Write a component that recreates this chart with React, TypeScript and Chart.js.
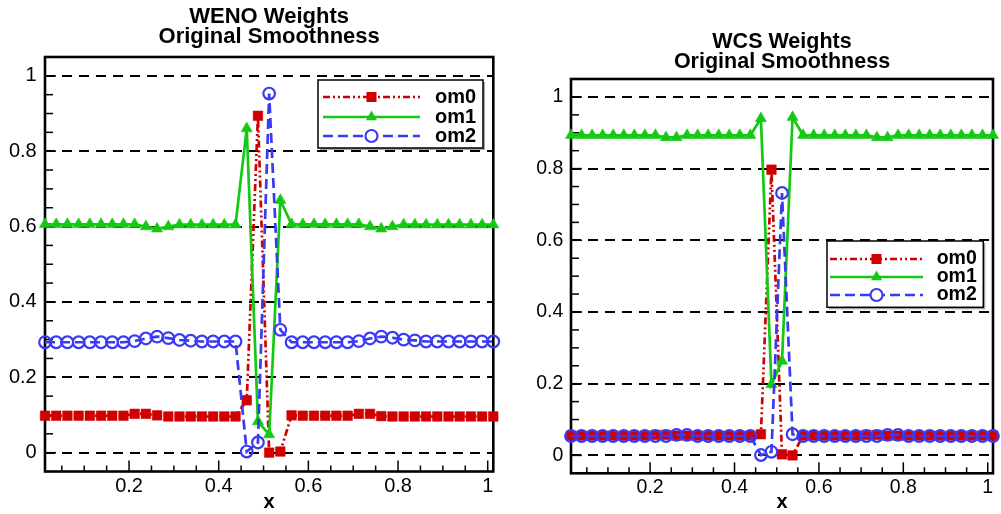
import React, { useEffect, useRef } from 'react';
import { Chart, registerables } from 'chart.js';

Chart.register(...registerables);

const FONT = '"Liberation Sans", Arial, Helvetica, sans-serif';
const RED = '#d10000';
const GREEN = '#14c814';
const BLUE = '#3a3af2';

// grid points (cell centres)
const xValues = [
  0.0125, 0.0375, 0.0625, 0.0875, 0.1125, 0.1375, 0.1625, 0.1875, 0.2125, 0.2375,
  0.2625, 0.2875, 0.3125, 0.3375, 0.3625, 0.3875, 0.4125, 0.4375, 0.4625, 0.4875,
  0.5125, 0.5375, 0.5625, 0.5875, 0.6125, 0.6375, 0.6625, 0.6875, 0.7125, 0.7375,
  0.7625, 0.7875, 0.8125, 0.8375, 0.8625, 0.8875, 0.9125, 0.9375, 0.9625, 0.9875,
  1.0125,
];

// WENO weights
const wenoOm0 = [
  0.098, 0.098, 0.098, 0.098, 0.098, 0.098, 0.098, 0.098, 0.103, 0.103,
  0.099, 0.096, 0.096, 0.096, 0.096, 0.096, 0.096, 0.096, 0.139, 0.894,
  0.000, 0.003, 0.099, 0.098, 0.098, 0.098, 0.098, 0.098, 0.103, 0.103,
  0.097, 0.096, 0.096, 0.096, 0.096, 0.096, 0.096, 0.096, 0.096, 0.096,
  0.096,
];
const wenoOm1 = [
  0.606, 0.606, 0.606, 0.606, 0.606, 0.606, 0.606, 0.606, 0.606, 0.600,
  0.594, 0.600, 0.605, 0.605, 0.605, 0.605, 0.605, 0.605, 0.860, 0.083,
  0.048, 0.670, 0.606, 0.606, 0.606, 0.606, 0.606, 0.606, 0.606, 0.600,
  0.594, 0.600, 0.605, 0.605, 0.605, 0.605, 0.605, 0.605, 0.605, 0.605,
  0.605,
];
const wenoOm2 = [
  0.293, 0.293, 0.293, 0.293, 0.293, 0.293, 0.293, 0.293, 0.296, 0.303,
  0.308, 0.304, 0.299, 0.297, 0.295, 0.295, 0.295, 0.295, 0.003, 0.027,
  0.953, 0.326, 0.293, 0.293, 0.293, 0.293, 0.293, 0.293, 0.296, 0.303,
  0.308, 0.305, 0.300, 0.298, 0.295, 0.295, 0.295, 0.295, 0.295, 0.295,
  0.295,
];

// WCS weights
const wcsOm0 = [
  0.055, 0.055, 0.055, 0.055, 0.055, 0.055, 0.055, 0.055, 0.057, 0.057,
  0.055, 0.055, 0.055, 0.055, 0.055, 0.055, 0.055, 0.055, 0.059, 0.797,
  0.003, 0.000, 0.055, 0.055, 0.055, 0.055, 0.055, 0.055, 0.057, 0.057,
  0.055, 0.055, 0.055, 0.055, 0.055, 0.055, 0.055, 0.055, 0.055, 0.055,
  0.055,
];
const wcsOm1 = [
  0.893, 0.893, 0.893, 0.893, 0.893, 0.893, 0.893, 0.893, 0.893, 0.887,
  0.887, 0.893, 0.893, 0.893, 0.893, 0.893, 0.893, 0.893, 0.940, 0.198,
  0.263, 0.943, 0.893, 0.893, 0.893, 0.893, 0.893, 0.893, 0.893, 0.887,
  0.887, 0.893, 0.893, 0.893, 0.893, 0.893, 0.893, 0.893, 0.893, 0.893,
  0.893,
];
const wcsOm2 = [
  0.054, 0.054, 0.054, 0.054, 0.054, 0.054, 0.054, 0.054, 0.054, 0.054,
  0.057, 0.057, 0.054, 0.054, 0.054, 0.054, 0.054, 0.054, 0.001, 0.010,
  0.732, 0.059, 0.054, 0.054, 0.054, 0.054, 0.054, 0.054, 0.054, 0.054,
  0.057, 0.057, 0.054, 0.054, 0.054, 0.054, 0.054, 0.054, 0.054, 0.054,
  0.054,
];

const seriesNames = ['om0', 'om1', 'om2'];
const wenoTitle = ['WENO Weights', 'Original Smoothness'];
const wcsTitle = ['WCS Weights', 'Original Smoothness'];

// axis ticks (minor every 0.05, labelled every 0.2)
const yTickValues = [
  0, 0.05, 0.1, 0.15, 0.2, 0.25, 0.3, 0.35, 0.4, 0.45, 0.5,
  0.55, 0.6, 0.65, 0.7, 0.75, 0.8, 0.85, 0.9, 0.95, 1,
];
const xTickValues = [
  0.05, 0.1, 0.15, 0.2, 0.25, 0.3, 0.35, 0.4, 0.45, 0.5,
  0.55, 0.6, 0.65, 0.7, 0.75, 0.8, 0.85, 0.9, 0.95, 1,
];
const yRange = [-0.05, 1.05];
const xRange = [0.0125, 1.0125];

const isMajor = (v: number) => Math.abs(v / 0.2 - Math.round(v / 0.2)) < 1e-6;
const fmt = (v: number) => (Math.abs(v) < 1e-9 ? '0' : Math.abs(v - 1) < 1e-9 ? '1' : v.toFixed(1));

type Layout = {
  width: number;
  height: number;
  area: { left: number; top: number; right: number; bottom: number };
  titlePad: { top: number; bottom: number };
  titleSize: number;
  tickSize: number;
  xLabelPad: number;
  yLabelPad: number;
  xTitlePad: number;
  legend: { left: number; top: number; right: number; bottom: number; rows: number[]; x1: number; x2: number; textX: number; size: number };
};

function drawMarker(ctx: CanvasRenderingContext2D, style: string, x: number, y: number, color: string) {
  ctx.save();
  ctx.setLineDash([]);
  if (style === 'rect') {
    ctx.fillStyle = color;
    ctx.fillRect(x - 5, y - 5, 10, 10);
  } else if (style === 'triangle') {
    ctx.fillStyle = color;
    ctx.beginPath();
    ctx.moveTo(x, y - 6.5);
    ctx.lineTo(x + 5.6, y + 3.25);
    ctx.lineTo(x - 5.6, y + 3.25);
    ctx.closePath();
    ctx.fill();
  } else {
    ctx.strokeStyle = color;
    ctx.lineWidth = 2.2;
    ctx.beginPath();
    ctx.arc(x, y, 6, 0, Math.PI * 2);
    ctx.fillStyle = '#fff';
    ctx.fill();
    ctx.stroke();
  }
  ctx.restore();
}

function makeFramePlugin(L: Layout) {
  return {
    id: 'frameTicks',
    beforeDatasetsDraw(chart: any) {
      const { ctx, chartArea: a, scales } = chart;
      ctx.save();
      ctx.strokeStyle = '#000';
      ctx.setLineDash([]);
      ctx.lineWidth = 1.5;
      for (const t of scales.y.ticks) {
        const py = scales.y.getPixelForValue(t.value);
        ctx.beginPath();
        ctx.moveTo(a.left, py);
        ctx.lineTo(a.left + (isMajor(t.value) ? 11 : 8), py);
        ctx.stroke();
      }
      for (const t of scales.x.ticks) {
        const px = scales.x.getPixelForValue(t.value);
        ctx.beginPath();
        ctx.moveTo(px, a.bottom);
        ctx.lineTo(px, a.bottom - (isMajor(t.value) ? 11 : 6));
        ctx.stroke();
      }
      ctx.lineWidth = 2.6;
      ctx.strokeRect(a.left, a.top, a.right - a.left, a.bottom - a.top);
      ctx.restore();
    },
    afterDatasetsDraw(chart: any) {
      const { ctx } = chart;
      const g = L.legend;
      ctx.save();
      ctx.fillStyle = 'rgba(0,0,0,0.35)';
      ctx.fillRect(g.left + 2, g.top + 2, g.right - g.left, g.bottom - g.top);
      ctx.fillStyle = '#fff';
      ctx.fillRect(g.left, g.top, g.right - g.left, g.bottom - g.top);
      ctx.strokeStyle = '#000';
      ctx.lineWidth = 1.5;
      ctx.strokeRect(g.left, g.top, g.right - g.left, g.bottom - g.top);
      chart.data.datasets.forEach((ds: any, i: number) => {
        const y = g.rows[i];
        ctx.save();
        ctx.strokeStyle = ds.borderColor;
        ctx.lineWidth = ds.borderWidth;
        ctx.setLineDash(ds.borderDash || []);
        ctx.beginPath();
        ctx.moveTo(g.x1, y);
        ctx.lineTo(g.x2, y);
        ctx.stroke();
        ctx.restore();
        drawMarker(ctx, ds.pointStyle, (g.x1 + g.x2) / 2, y, ds.borderColor);
        ctx.fillStyle = '#000';
        ctx.font = `bold ${g.size}px ${FONT}`;
        ctx.textBaseline = 'middle';
        ctx.textAlign = 'left';
        ctx.fillText(ds.label, g.textX, y);
      });
      ctx.restore();
    },
  };
}

function buildConfig(title: string[], om0: number[], om1: number[], om2: number[], L: Layout): any {
  const pts = (arr: number[]) => xValues.map((x, i) => ({ x, y: arr[i] }));
  return {
    type: 'line',
    data: {
      datasets: [
        {
          label: seriesNames[0], data: pts(om0), borderColor: RED, backgroundColor: RED,
          borderWidth: 2.7, borderDash: [7, 3, 2, 3, 2, 3], pointStyle: 'rect', pointRadius: 6.8,
          pointBorderWidth: 0.5, pointBackgroundColor: RED, pointBorderColor: RED, clip: false, order: 3, tension: 0,
        },
        {
          label: seriesNames[1], data: pts(om1), borderColor: GREEN, backgroundColor: GREEN,
          borderWidth: 2.7, borderDash: [], pointStyle: 'triangle', pointRadius: 6.5,
          pointBorderWidth: 0.5, pointBackgroundColor: GREEN, pointBorderColor: GREEN, clip: false, order: 2, tension: 0,
        },
        {
          label: seriesNames[2], data: pts(om2), borderColor: BLUE, backgroundColor: 'rgba(0,0,0,0)',
          borderWidth: 2.7, borderDash: [10, 5], pointStyle: 'circle', pointRadius: 5.8,
          pointBorderWidth: 2.2, pointBackgroundColor: 'rgba(0,0,0,0)', pointBorderColor: BLUE, clip: false, order: 1, tension: 0,
        },
      ],
    },
    options: {
      animation: false,
      responsive: false,
      events: [],
      layout: { padding: { left: 0, top: 0, right: L.width - L.area.right, bottom: 0 } },
      plugins: {
        legend: { display: false },
        tooltip: { enabled: false },
        title: {
          display: true,
          text: title,
          fullSize: false,
          color: '#000',
          font: { family: FONT, size: L.titleSize, weight: 'bold', lineHeight: '20px' },
          padding: L.titlePad,
        },
      },
      scales: {
        x: {
          type: 'linear',
          min: xRange[0],
          max: xRange[1],
          afterBuildTicks: (s: any) => { s.ticks = xTickValues.map((v) => ({ value: v })); },
          afterFit: (s: any) => { s.height = L.height - L.area.bottom; },
          ticks: {
            autoSkip: false, maxRotation: 0, color: '#000', padding: L.xLabelPad,
            font: { family: FONT, size: L.tickSize },
            callback: (v: number) => (isMajor(v) ? fmt(v) : ''),
          },
          grid: { display: false, drawTicks: false },
          border: { display: false },
          title: {
            display: true, text: 'x', color: '#000',
            font: { family: FONT, size: 20, weight: 'bold' },
            padding: { top: 0, bottom: L.xTitlePad },
          },
        },
        y: {
          type: 'linear',
          min: yRange[0],
          max: yRange[1],
          afterBuildTicks: (s: any) => { s.ticks = yTickValues.map((v) => ({ value: v })); },
          afterFit: (s: any) => { s.width = L.area.left; },
          ticks: {
            autoSkip: false, color: '#000', padding: L.yLabelPad,
            font: { family: FONT, size: L.tickSize },
            callback: (v: number) => (isMajor(v) ? fmt(v) : ''),
          },
          grid: {
            display: true, drawTicks: false, lineWidth: 2,
            color: (c: any) => (c.tick && isMajor(c.tick.value) ? '#000' : 'rgba(0,0,0,0)'),
          },
          border: { display: false, dash: [10, 7] },
        },
      },
    },
    plugins: [makeFramePlugin(L)],
  };
}

const leftLayout: Layout = {
  width: 505, height: 514,
  area: { left: 45, top: 57, right: 493.3, bottom: 471.5 },
  titlePad: { top: 6.7, bottom: 10.3 },
  titleSize: 22, tickSize: 20, xLabelPad: 3.2, yLabelPad: 8.3, xTitlePad: 0,
  legend: { left: 318, top: 80, right: 483, bottom: 148, rows: [97, 117, 136], x1: 323, x2: 420, textX: 435, size: 20 },
};
const rightLayout: Layout = {
  width: 496, height: 514,
  area: { left: 66, top: 79, right: 493.7, bottom: 473.3 },
  titlePad: { top: 32.5, bottom: 6.5 },
  titleSize: 21.5, tickSize: 19.5, xLabelPad: 2.7, yLabelPad: 7.7, xTitlePad: 0,
  legend: { left: 322, top: 241, right: 478.3, bottom: 307.3, rows: [259, 277, 295], x1: 325, x2: 418, textX: 431.7, size: 19.5 },
};

function Panel({ title, om0, om1, om2, L, left }: { title: string[]; om0: number[]; om1: number[]; om2: number[]; L: Layout; left: number }) {
  const ref = useRef<HTMLCanvasElement | null>(null);
  useEffect(() => {
    if (!ref.current) return;
    const chart = new Chart(ref.current, buildConfig(title, om0, om1, om2, L));
    return () => chart.destroy();
  }, []);
  return (
    <canvas
      ref={ref}
      width={L.width}
      height={L.height}
      style={{ position: 'absolute', left, top: 0, width: L.width, height: L.height }}
    />
  );
}

export default function App() {
  return (
    <div style={{ position: 'absolute', left: 0, top: 0, width: 1001, height: 514, background: '#fff', overflow: 'hidden' }}>
      <Panel title={wenoTitle} om0={wenoOm0} om1={wenoOm1} om2={wenoOm2} L={leftLayout} left={0} />
      <Panel title={wcsTitle} om0={wcsOm0} om1={wcsOm1} om2={wcsOm2} L={rightLayout} left={505} />
    </div>
  );
}
